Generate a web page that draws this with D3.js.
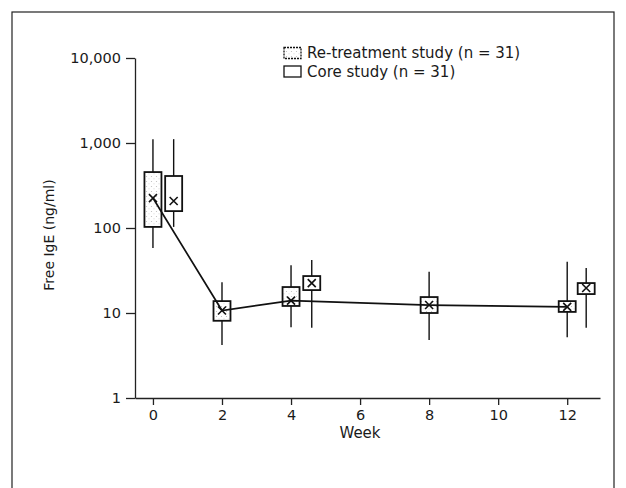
<!DOCTYPE html>
<html>
<head>
<meta charset="utf-8">
<script src="https://cdn.jsdelivr.net/npm/d3@7"></script>
<style>
  html, body { margin: 0; padding: 0; background: #fff; }
  svg { display: block; }
  text { font-family: "DejaVu Sans", "Open Sans", sans-serif; fill: #1a1a1a; }
</style>
</head>
<body>
<svg id="chart" width="626" height="488"></svg>
<script>
// ---- data ----
const weekTicks = [0, 2, 4, 6, 8, 10, 12];
const yTicks = [1, 10, 100, 1000, 10000];

// Re-treatment study (n = 31)
const reWeeks   = [0, 2, 4, 8, 12];
const reHigh    = [1110, 23, 36.5, 30.5, 40];
const reQ3      = [455, 13.8, 20.2, 15.4, 13.8];
const reQ1      = [103, 8.1, 12.1, 10.0, 10.3];
const reLow     = [58, 4.2, 6.8, 4.8, 5.2];
const reMean    = [225, 10.7, 14.0, 12.4, 11.8];

// Core study (n = 31)
const coreWeeks = [0.6, 4.6, 12.55];
const coreHigh  = [1110, 42, 33.8];
const coreQ3    = [409, 27.2, 22.5];
const coreQ1    = [158, 18.6, 16.7];
const coreLow   = [103, 6.7, 6.7];
const coreMean  = [208, 22.5, 19.7];

const legendLabels = ["Re-treatment study (n = 31)", "Core study (n = 31)"];

// ---- drawing ----
const svg = d3.select("#chart");

// stipple pattern for re-treatment boxes
const defs = svg.append("defs");
const pat = defs.append("pattern").attr("id", "stipple")
  .attr("patternUnits", "userSpaceOnUse").attr("width", 5).attr("height", 5);
pat.append("rect").attr("width", 5).attr("height", 5).attr("fill", "#fff");
pat.append("circle").attr("cx", 1.5).attr("cy", 1.5).attr("r", 0.6).attr("fill", "#bbb");
pat.append("circle").attr("cx", 4).attr("cy", 3.8).attr("r", 0.5).attr("fill", "#ccc");

// frame
svg.append("rect").attr("x", 12).attr("y", 12).attr("width", 602).attr("height", 500)
  .attr("fill", "none").attr("stroke", "#222").attr("stroke-width", 1.2);

const x = d3.scaleLinear().domain([-0.52, 12.95]).range([135, 600]);
const y = d3.scaleLog().domain([1, 10000]).range([398, 58]);

// y axis
const gy = svg.append("g").attr("transform", "translate(135,0)")
  .call(d3.axisLeft(y).tickValues(yTicks).tickFormat(d3.format(",")).tickSize(9).tickSizeOuter(0).tickPadding(5));
gy.selectAll("text").attr("font-size", 14.5);
gy.selectAll("path,line").attr("stroke", "#222").attr("stroke-width", 1.3);

// x axis
const gx = svg.append("g").attr("transform", "translate(0," + y(1) + ")")
  .call(d3.axisBottom(x).tickValues(weekTicks).tickSize(7).tickSizeOuter(0).tickPadding(5));
gx.selectAll("text").attr("font-size", 14.5);
gx.selectAll("path,line").attr("stroke", "#222").attr("stroke-width", 1.3);

// axis titles
svg.append("text").attr("x", 360).attr("y", 438).attr("text-anchor", "middle")
  .attr("font-size", 15).text("Week");
svg.append("text").attr("transform", "translate(54,235) rotate(-90)")
  .attr("text-anchor", "middle").attr("font-size", 14).attr("fill", "#1a1a1a").text("Free IgE (ng/ml)");

const boxW = 17;
function drawBoxes(weeks, hi, q3, q1, lo, mean, fill) {
  const g = svg.append("g");
  weeks.forEach((w, i) => {
    const cx = x(w);
    g.append("line").attr("x1", cx).attr("x2", cx).attr("y1", y(hi[i])).attr("y2", y(lo[i]))
      .attr("stroke", "#111").attr("stroke-width", 1.4);
    g.append("rect").attr("x", cx - boxW / 2).attr("width", boxW)
      .attr("y", y(q3[i])).attr("height", y(q1[i]) - y(q3[i]))
      .attr("fill", fill).attr("stroke", "#111").attr("stroke-width", 1.8);
  });
  return g;
}
function drawMeans(g, weeks, mean) {
  weeks.forEach((w, i) => {
    const cx = x(w), cy = y(mean[i]), s = 4;
    g.append("path").attr("d", `M${cx - s},${cy - s}L${cx + s},${cy + s}M${cx + s},${cy - s}L${cx - s},${cy + s}`)
      .attr("stroke", "#111").attr("stroke-width", 1.6).attr("fill", "none");
  });
}

const gCore = drawBoxes(coreWeeks, coreHigh, coreQ3, coreQ1, coreLow, coreMean, "#fff");
drawMeans(gCore, coreWeeks, coreMean);
const gRe = drawBoxes(reWeeks, reHigh, reQ3, reQ1, reLow, reMean, "url(#stipple)");

// line through re-treatment means
const line = d3.line().x((d, i) => x(reWeeks[i])).y(d => y(d));
svg.append("path").datum(reMean).attr("d", line)
  .attr("fill", "none").attr("stroke", "#111").attr("stroke-width", 1.7);
drawMeans(gRe, reWeeks, reMean);

// legend
const lg = svg.append("g");
legendLabels.forEach((t, i) => {
  const ly = 53 + i * 18.5;
  lg.append("rect").attr("x", 284).attr("y", ly - 5.5).attr("width", 17).attr("height", 11)
    .attr("fill", i === 0 ? "url(#stipple)" : "#fff").attr("stroke", "#111")
    .attr("stroke-width", 1.3).attr("stroke-dasharray", i === 0 ? "2,1" : null);
  lg.append("text").attr("x", 307).attr("y", ly + 5).attr("font-size", 15).text(t);
});
</script>
</body>
</html>
